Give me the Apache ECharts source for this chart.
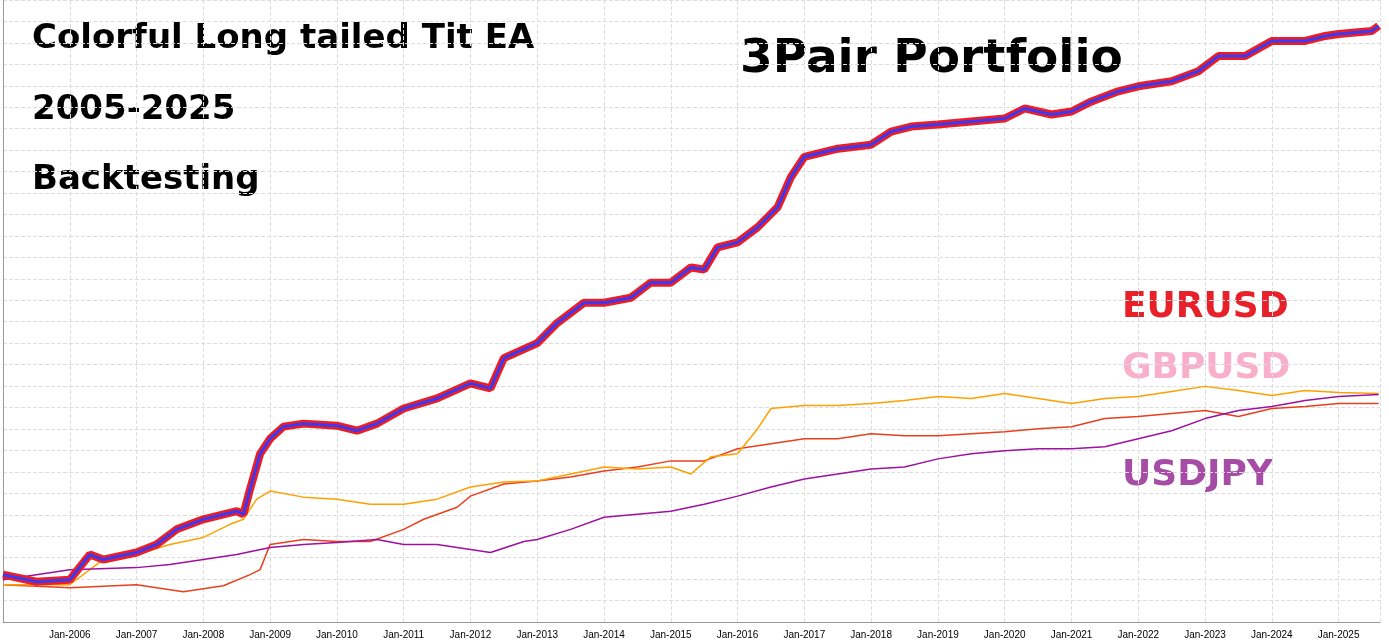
<!DOCTYPE html>
<html><head><meta charset="utf-8">
<script src="https://cdn.jsdelivr.net/npm/echarts@6/dist/echarts.min.js"></script>
<style>html,body{margin:0;padding:0;background:#fff}#c{width:1389px;height:641px}</style>
</head><body><div id="c"></div>
<script>
// values in grid units (pixel row converted), x = year
const portfolio = [[2005,575],[2005.5,582],[2006,580],[2006.3,555],[2006.5,560],[2007,553],[2007.3,545],[2007.6,530],[2008,520],[2008.5,512],[2008.6,515],[2008.7,490],[2008.85,455],[2009,440],[2009.2,428],[2009.5,425],[2010,427],[2010.3,432],[2010.6,425],[2011,410],[2011.5,400],[2012,385],[2012.3,390],[2012.5,360],[2013,345],[2013.3,325],[2013.7,305],[2014,305],[2014.4,300],[2014.7,285],[2015,285],[2015.3,270],[2015.5,272],[2015.7,250],[2016,245],[2016.3,230],[2016.6,210],[2016.8,180],[2017,160],[2017.5,152],[2018,148],[2018.3,135],[2018.6,130],[2019,128],[2019.5,125],[2020,122],[2020.3,112],[2020.7,118],[2021,115],[2021.3,105],[2021.7,95],[2022,90],[2022.5,85],[2022.9,75],[2023.2,60],[2023.6,60],[2024,45],[2024.5,45],[2024.8,40],[2025,38],[2025.5,35],[2025.6,30]];
const gbpusd = [[2005,585],[2006,585],[2006.5,560],[2007,555],[2007.5,545],[2008,538],[2008.4,525],[2008.6,520],[2008.8,500],[2009,492],[2009.5,498],[2010,500],[2010.5,505],[2011,505],[2011.5,500],[2012,488],[2012.5,483],[2013,482],[2013.5,475],[2014,468],[2014.5,470],[2015,468],[2015.3,475],[2015.6,458],[2016,455],[2016.3,430],[2016.5,410],[2017,407],[2017.5,407],[2018,405],[2018.5,402],[2019,398],[2019.5,400],[2020,395],[2020.5,400],[2021,405],[2021.5,400],[2022,398],[2022.5,393],[2023,388],[2023.5,392],[2024,397],[2024.5,392],[2025,394],[2025.6,395]];
const eurusd = [[2005,585],[2006,588],[2007,585],[2007.7,592],[2008.3,586],[2008.7,575],[2008.85,570],[2009,545],[2009.5,540],[2010,542],[2010.5,542],[2011,530],[2011.3,520],[2011.8,508],[2012,497],[2012.5,485],[2013,482],[2013.5,478],[2014,472],[2014.5,468],[2015,462],[2015.5,462],[2016,450],[2016.5,445],[2017,440],[2017.5,440],[2018,435],[2018.5,437],[2019,437],[2019.5,435],[2020,433],[2020.5,430],[2021,428],[2021.5,420],[2022,418],[2022.5,415],[2023,412],[2023.5,418],[2024,410],[2024.5,408],[2025,405],[2025.6,405]];
const usdjpy = [[2005,580],[2006,570],[2007,568],[2007.5,565],[2008,560],[2008.5,555],[2009,548],[2009.5,545],[2010,543],[2010.6,540],[2011,545],[2011.5,545],[2012,550],[2012.3,553],[2012.8,542],[2013,540],[2013.5,530],[2014,518],[2014.5,515],[2015,512],[2015.5,505],[2016,497],[2016.5,488],[2017,480],[2017.5,475],[2018,470],[2018.5,468],[2019,460],[2019.5,455],[2020,452],[2020.5,450],[2021,450],[2021.5,448],[2022,440],[2022.5,432],[2023,420],[2023.5,412],[2024,408],[2024.5,402],[2025,398],[2025.6,396]];
const conv = a => a.map(p => [p[0], (622 - p[1]) / 21.3]);
const chart = echarts.init(document.getElementById('c'));
const ln = (d, c, w, z) => ({type:'line', data:conv(d), showSymbol:false, lineStyle:{color:c,width:w}, z:z, animation:false});
const T = (t, x, y, s, c) => ({type:'text', left:x, top:y, style:{text:t, font:'bold '+s+'px "DejaVu Sans"', fill:c}});
chart.setOption({
  animation:false,
  grid:{left:2, right:9, top:0, bottom:19},
  xAxis:{type:'value', min:2005, max:2025.62, interval:1,
    axisLine:{lineStyle:{color:'#999'}}, axisTick:{show:false},
    axisLabel:{fontSize:10, color:'#000', formatter:v => v===2005 ? '' : 'Jan-' + v},
    splitLine:{lineStyle:{type:'dashed', color:'#ddd'}}},
  yAxis:{type:'value', min:0, max:29, interval:1,
    axisLine:{show:true, lineStyle:{color:'#999'}}, axisTick:{show:false}, axisLabel:{show:false},
    splitLine:{lineStyle:{type:'dashed', color:'#ddd'}}},
  series:[ln(eurusd,'#e8401c',1.5,2), ln(gbpusd,'#ffa000',1.5,2), ln(usdjpy,'#a010a0',1.5,2),
    ln(portfolio,'#ee1c25',8,3), ln(portfolio,'#3a3af0',3,4)],
  graphic:[
    T('Colorful Long tailed Tit EA',32,22,34,'#000'),
    T('2005-2025',32,93,34,'#000'),
    T('Backtesting',32,163,34,'#000'),
    T('3Pair Portfolio',740,36,47,'#000'),
    T('EURUSD',1122,290,36,'#e8202a'),
    T('GBPUSD',1122,351,36,'#f9afc9'),
    T('USDJPY',1122,458,36,'#a64ca6')
  ]
});
</script></body></html>
